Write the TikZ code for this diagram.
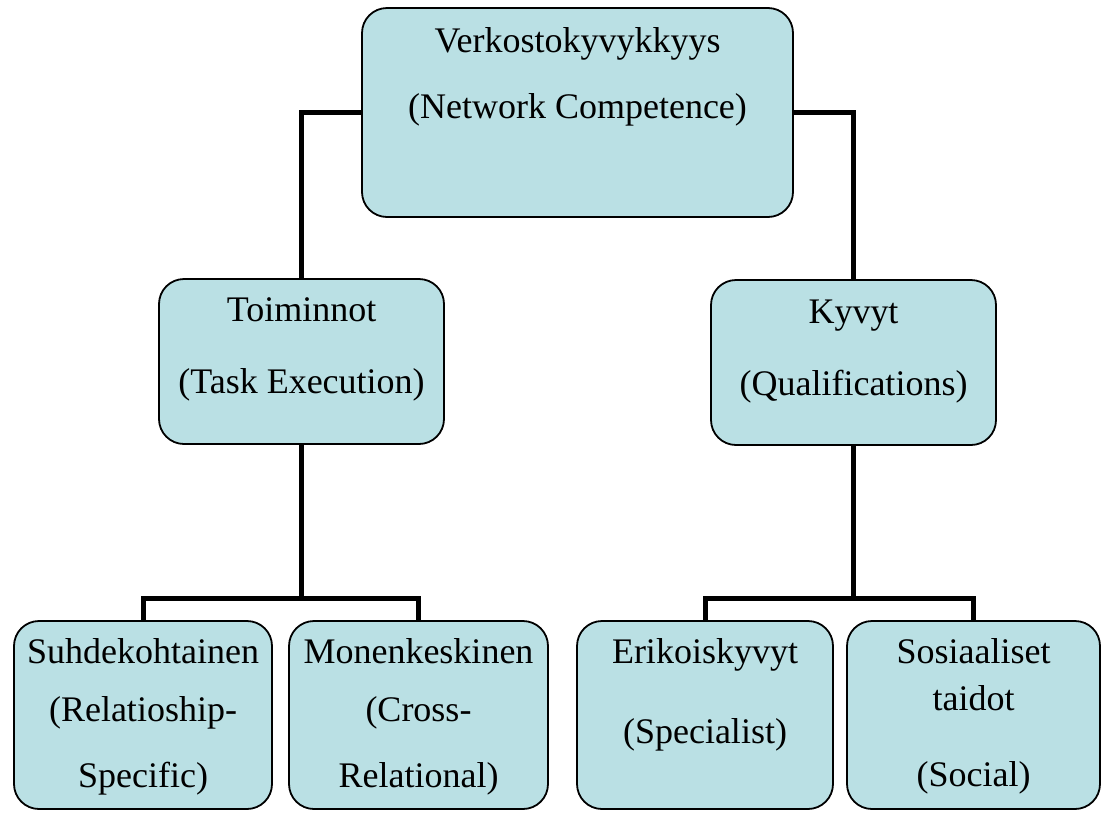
\documentclass[tikz,border=0pt]{standalone}
\usepackage{fontspec}
\setmainfont{LiberationSerif}[Extension=.ttf, UprightFont=*-Regular, BoldFont=*-Bold]
\usetikzlibrary{backgrounds}
\begin{document}
\definecolor{boxfill}{RGB}{186,224,228}
\begin{tikzpicture}[x=1pt,y=-1pt,
  box/.style={draw=black, line width=1.8pt, fill=boxfill, rounded corners=25pt,
              inner sep=0pt, outer sep=0pt},
  txt/.style={anchor=base, inner sep=0pt, font=\fontsize{36}{42}\selectfont},
  link/.style={draw=black, line width=5pt}]
\useasboundingbox (0,0) rectangle (1109,812);

% boxes (centre, size)
\node[box, minimum width=431pt, minimum height=209pt] (top)  at (577.5,112.5) {};
\node[box, minimum width=285pt, minimum height=165pt] (toim) at (301.5,361.5) {};
\node[box, minimum width=285pt, minimum height=165pt] (kyv)  at (853.5,362.5) {};
\node[box, minimum width=258pt, minimum height=188pt] (b1)   at (143,715) {};
\node[box, minimum width=259pt, minimum height=188pt] (b2)   at (418.5,715) {};
\node[box, minimum width=256pt, minimum height=188pt] (b3)   at (705,715) {};
\node[box, minimum width=253pt, minimum height=188pt] (b4)   at (973.5,715) {};

% junction points of the lower branches
\coordinate (jl) at (301.5,598);
\coordinate (jr) at (853.5,598);

% connectors, behind the boxes
\begin{scope}[on background layer]
\draw[link] (top.west) -| (toim.north);
\draw[link] (top.east) -| (kyv.north);
\draw[link] (toim.south) -- (jl);
\draw[link] (b1.north) |- (jl) -| (b2.north);
\draw[link] (kyv.south) -- (jr);
\draw[link] (b3.north) |- (jr) -| (b4.north);
\end{scope}

% texts
\node[txt] (t1) at (577.5,52)  {Verkostokyvykkyys};
\node[txt] (t2) at (577.5,118) {(Network Competence)};

\node[txt] (t3) at (301.5,321) {Toiminnot};
\node[txt] (t4) at (301.5,393) {(Task Execution)};

\node[txt] (t5) at (853.5,323) {Kyvyt};
\node[txt] (t6) at (853.5,395) {(Qualifications)};

\node[txt] (t7)  at (143,663) {Suhdekohtainen};
\node[txt] (t8)  at (143,721) {(Relatioship-};
\node[txt] (t9)  at (143,787) {Specific)};

\node[txt] (t10) at (418.5,663) {Monenkeskinen};
\node[txt] (t11) at (418.5,721) {(Cross-};
\node[txt] (t12) at (418.5,787) {Relational)};

\node[txt] (t13) at (705,663) {Erikoiskyvyt};
\node[txt] (t14) at (705,743) {(Specialist)};

\node[txt] (t15) at (973.5,663) {Sosiaaliset};
\node[txt] (t16) at (973.5,710) {taidot};
\node[txt] (t17) at (973.5,786) {(Social)};
\end{tikzpicture}
\end{document}
